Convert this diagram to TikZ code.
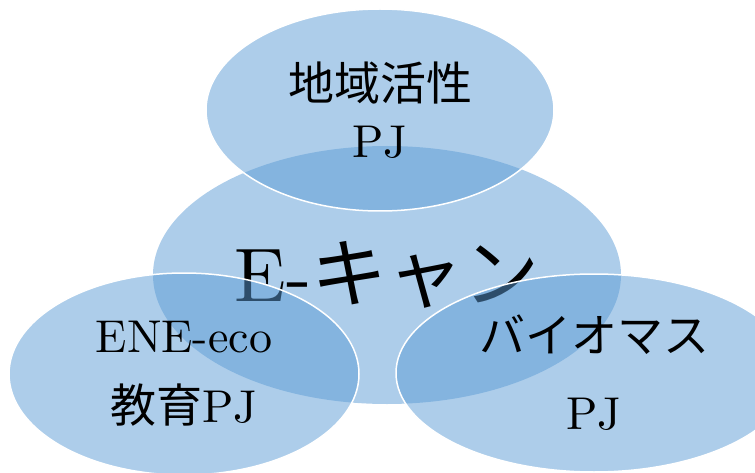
\documentclass[tikz,border=0pt]{standalone}
\usepackage{fontspec}
\setmainfont{lmroman10-regular.otf}
\newfontfamily\jp{Noto Sans CJK JP}
\usetikzlibrary{shapes.geometric}
\definecolor{bubble}{RGB}{91,155,213}
\begin{document}
\begin{tikzpicture}[x=1pt, y=1pt,
  bubble/.style={ellipse, inner sep=0pt, fill=bubble, fill opacity=0.5, text opacity=1, align=center},
  project/.style={bubble, draw=white, line width=1.5pt}]
  \useasboundingbox (0,0) rectangle (755,472);
  % centre
  \node [bubble, minimum width=468pt, minimum height=258pt, font=\fontsize{76}{80}\selectfont] (ecan) at (387,197) {E-{\jp キャン}};
  % projects
  \node [project, minimum width=348pt, minimum height=202pt, font=\fontsize{46}{57}\selectfont] (chiiki) at (380,362) {{\jp 地域活性}\\PJ};
  \node [project, minimum width=350pt, minimum height=202pt, font=\fontsize{46}{70}\selectfont] (eneeco) at (184,98) {ENE-eco\\{\jp 教育}PJ};
  \node [project, minimum width=396pt, minimum height=198pt, font=\fontsize{46}{77}\selectfont] (bio) at (594,99) {{\jp バイオマス}\\PJ};
\end{tikzpicture}
\end{document}
